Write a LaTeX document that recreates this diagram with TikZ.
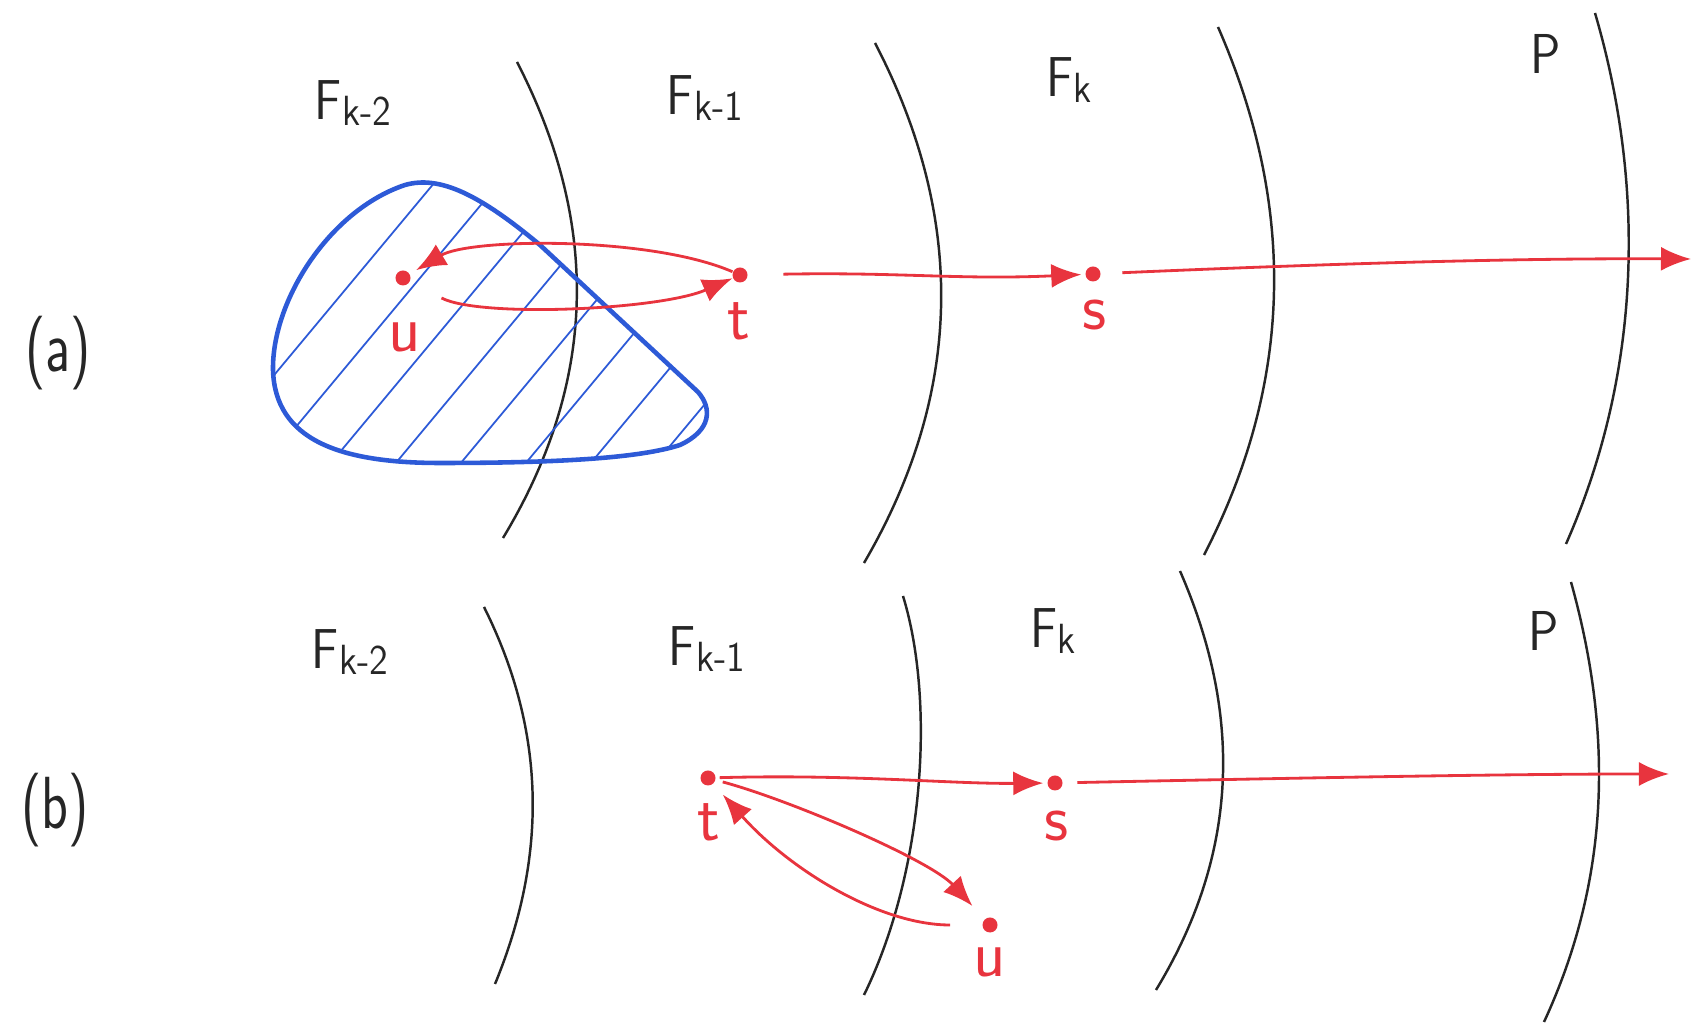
\documentclass[tikz,border=0pt]{standalone}
\usetikzlibrary{arrows.meta}
\definecolor{penred}{RGB}{232,52,62}
\definecolor{penblue}{RGB}{45,90,215}
\tikzset{
  layer/.style={draw=black!85, line width=0.7pt},
  dot/.style={circle, fill=penred, inner sep=0pt, minimum size=1.5mm},
  redarr/.style={draw=penred, line width=0.8pt, -{Latex[length=3mm,width=2.4mm]}},
  lbl/.style={font=\sffamily\fontsize{16}{19}\selectfont, text=black!85, xscale=0.9},
  rlbl/.style={font=\sffamily\fontsize{19}{22}\selectfont, text=penred},
  part/.style={font=\sffamily\fontsize{21}{24}\selectfont, text=black!85, xscale=0.75, anchor=west},
  blob/.style={draw=penblue, line width=1.3pt},
  hatch/.style={draw=penblue, line width=0.5pt}
}
\newcommand{\Flab}[1]{F{\fontsize{12}{12}\selectfont\raisebox{-0.35ex}{#1}}}
\begin{document}
\begin{tikzpicture}[x=0.01cm,y=-0.01cm]
\useasboundingbox (0,0) rectangle (1705,1031);

% ---------- (a) ----------
\draw[layer] (517,62) .. controls (599,221) and (599,379) .. (503,538);
\draw[layer] (875,43) .. controls (965,216) and (965,390) .. (864,563);
\draw[layer] (1218,27) .. controls (1295,203) and (1295,379) .. (1204,555);
\draw[layer] (1595,13) .. controls (1644,180) and (1644,367) .. (1566,544);

\node[lbl] (fa1) at (353,103) {\Flab{k-2}};
\node[lbl] (fa2) at (705,98) {\Flab{k-1}};
\node[lbl] (fa3) at (1069,80) {\Flab{k}};
\node[lbl] (fa4) at (1546,54) {P};
\node[part] (pa) at (16,353) {(a)};

% blob
\begin{scope}
\clip (540,245) -- (698,392)
  .. controls (712,408) and (712,430) .. (680,445)
  .. controls (640,458) and (560,463) .. (440,463)
  .. controls (340,463) and (275,440) .. (273,370)
  .. controls (272,300) and (330,210) .. (405,185)
  .. controls (440,175) and (480,195) .. (540,245) -- cycle;
\foreach \x in {40,105,...,740}
  \draw[hatch] (\x,500) -- ++(300,-360);
\end{scope}
\draw[blob] (540,245) -- (698,392)
  .. controls (712,408) and (712,430) .. (680,445)
  .. controls (640,458) and (560,463) .. (440,463)
  .. controls (340,463) and (275,440) .. (273,370)
  .. controls (272,300) and (330,210) .. (405,185)
  .. controls (440,175) and (480,195) .. (540,245) -- cycle;

\node[dot] (ua) at (403,278) {};
\node[dot] (ta) at (740,275) {};
\node[dot] (sa) at (1093,274) {};
\coordinate (ea) at (1691,259);
\node[rlbl] (lua) at (405,337) {u};
\node[rlbl] (lta) at (739,321) {t};
\node[rlbl] (lsa) at (1095,315) {s};

\draw[redarr, shorten >=2pt] (ta) .. controls (650,236) and (470,238) .. (ua);
\draw[redarr, shorten <=10pt] (ua) .. controls (480,318) and (660,310) .. (ta);
\draw[redarr, shorten <=10pt, shorten >=1pt] (ta) .. controls (900,272) and (960,280) .. (sa);
\draw[redarr, shorten <=6pt] (sa) .. controls (1300,265) and (1500,258) .. (ea);

% ---------- (b) ----------
\draw[layer] (484,607) .. controls (547,733) and (547,858) .. (495,984);
\draw[layer] (903,596) .. controls (935,700) and (925,870) .. (864,995);
\draw[layer] (1180,571) .. controls (1241,711) and (1241,850) .. (1156,990);
\draw[layer] (1571,582) .. controls (1612,729) and (1612,875) .. (1544,1022);

\node[lbl] (fb1) at (350,652) {\Flab{k-2}};
\node[lbl] (fb2) at (707,649) {\Flab{k-1}};
\node[lbl] (fb3) at (1053,631) {\Flab{k}};
\node[lbl] (fb4) at (1544,631) {P};
\node[part] (pb) at (12,810) {(b)};

\node[dot] (tb) at (708,778) {};
\node[dot] (sb) at (1055,783) {};
\node[dot] (ub) at (990,925) {};
\coordinate (eb) at (1669,774);
\node[rlbl] (ltb) at (709,822) {t};
\node[rlbl] (lsb) at (1057,826) {s};
\node[rlbl] (lub) at (990,962) {u};

\draw[redarr, shorten <=1pt, shorten >=1pt] (tb) .. controls (850,774) and (950,784) .. (sb);
\draw[redarr, shorten <=4pt] (sb) .. controls (1300,778) and (1500,774) .. (eb);
\draw[redarr, shorten <=2pt, shorten >=5pt] (tb) .. controls (790,800) and (930,860) .. (ub);
\draw[redarr, shorten <=9pt, shorten >=4pt] (ub) .. controls (880,925) and (790,870) .. (tb);
\end{tikzpicture}
\end{document}
